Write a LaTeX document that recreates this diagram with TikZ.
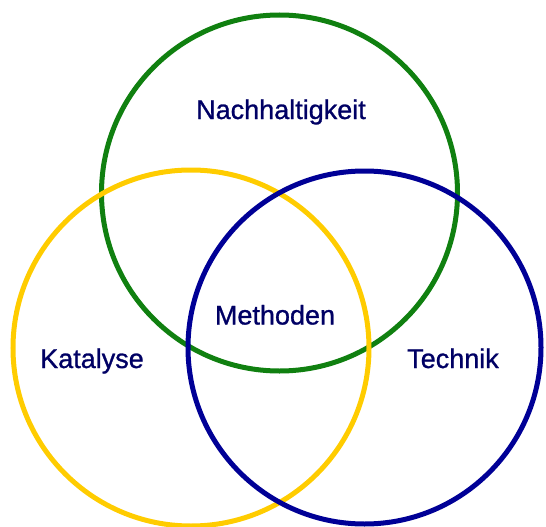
\documentclass[tikz,border=0pt]{standalone}
\usepackage{fontspec}
\setmainfont{Liberation Sans}
\newfontfamily\fontetichetta[FakeBold=1]{Liberation Sans}

\definecolor{verde}{RGB}{16,128,16}
\definecolor{giallo}{RGB}{255,204,0}
\definecolor{blu}{RGB}{0,0,150}
\definecolor{testo}{RGB}{0,0,100}

\begin{document}
\begin{tikzpicture}[x=1pt, y=-1pt, line width=5pt,
    etichetta/.style={text=testo, font=\fontetichetta\fontsize{27}{32}\selectfont, anchor=base, inner sep=0pt}]

    \useasboundingbox (0,0) rectangle (546,527);

    % -- Cerchi: prima il verde, poi il giallo, infine il blu sopra --
    \draw[verde]  (279.5, 193) circle[radius=178pt];
    \draw[giallo] (191, 348) circle[radius=178pt];
    \draw[blu]    (364.5, 347.5) circle[radius=176.5pt];

    % -- Etichette --
    \node[etichetta] (nachhaltigkeit) at (281, 119) {Nachhaltigkeit};
    \node[etichetta] (methoden) at (275, 324.5) {Methoden};
    \node[etichetta] (katalyse) at (92, 368) {Katalyse};
    \node[etichetta] (technik) at (453, 368) {Technik};
\end{tikzpicture}
\end{document}
